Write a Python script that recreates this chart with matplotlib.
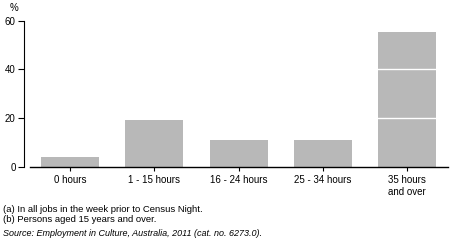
import matplotlib
matplotlib.use("Agg")
import matplotlib.pyplot as plt

categories = ["0 hours", "1 - 15 hours", "16 - 24 hours", "25 - 34 hours", "35 hours\nand over"]
values = [4.0, 19.2, 11.0, 11.0, 55.4]
yticks = [0, 20, 40, 60]

plt.rcParams["font.family"] = ["Liberation Sans", "DejaVu Sans"]

fig = plt.figure(figsize=(4.54, 2.46), dpi=100)
ax = fig.add_axes([24 / 454, 1 - 166.7 / 246, 424 / 454, 146 / 246])

x = range(len(categories))
ax.bar(x, values, width=0.69, color="#b8b8b8", zorder=1)
for g in yticks[1:-1]:
    ax.axhline(g, color="white", lw=1, zorder=2)

ax.set_xlim(-0.55, 4.49)
ax.set_ylim(0, 60)
ax.set_yticks(yticks)
ax.set_xticks(list(x))
ax.set_xticklabels(categories, fontsize=7, linespacing=1.3)
ax.tick_params(axis="y", labelsize=7, length=4, width=0.8, pad=2)
ax.tick_params(axis="x", length=3, width=0.8, pad=3)
for s in ["top", "right"]:
    ax.spines[s].set_visible(False)
ax.spines["left"].set_linewidth(0.8)
ax.spines["bottom"].set_linewidth(1.0)
ax.spines["bottom"].set_bounds(-0.48, 4.49)

fig.text(10 / 454, 1 - 8 / 246, "%", fontsize=7, va="center")
fig.text(3 / 454, 1 - 209 / 246, "(a) In all jobs in the week prior to Census Night.", fontsize=6.8, va="center")
fig.text(3 / 454, 1 - 220 / 246, "(b) Persons aged 15 years and over.", fontsize=6.8, va="center")
fig.text(3 / 454, 1 - 234 / 246, "Source: Employment in Culture, Australia, 2011 (cat. no. 6273.0).",
         fontsize=6.5, va="center", style="italic")

fig.savefig("out.png", dpi=100)
